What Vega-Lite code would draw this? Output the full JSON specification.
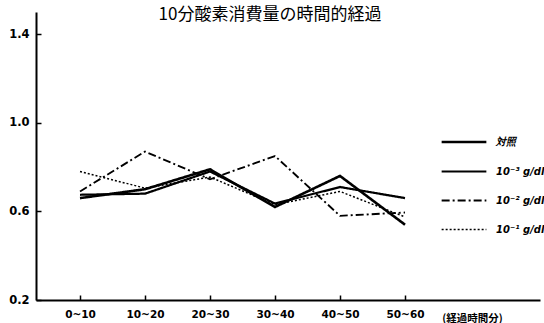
{
  "$schema": "https://vega.github.io/schema/vega-lite/v6.json",
  "width": 504,
  "height": 288,
  "autosize": {"type": "none"},
  "padding": {"left": 36, "top": 12, "right": 4, "bottom": 23},
  "background": "white",
  "title": {
    "text": "10分酸素消費量の時間的経過",
    "font": "Noto Sans CJK JP",
    "fontSize": 17,
    "fontWeight": "normal",
    "color": "black",
    "anchor": "middle",
    "frame": "group",
    "offset": -12,
    "dx": -18
  },
  "config": {
    "view": {"stroke": null},
    "axis": {"grid": false, "domainColor": "black", "domainWidth": 2, "tickColor": "black", "tickWidth": 1.5, "labelColor": "black", "labelFont": "DejaVu Sans", "labelFontWeight": "bold", "labelFontSize": 10.5, "titleColor": "black"}
  },
  "data": {
    "values": [
      {"t": 0, "series": "対照", "v": 0.66},
      {"t": 1, "series": "対照", "v": 0.70},
      {"t": 2, "series": "対照", "v": 0.79},
      {"t": 3, "series": "対照", "v": 0.62},
      {"t": 4, "series": "対照", "v": 0.76},
      {"t": 5, "series": "対照", "v": 0.54},
      {"t": 0, "series": "10⁻³ g/dl", "v": 0.675},
      {"t": 1, "series": "10⁻³ g/dl", "v": 0.68},
      {"t": 2, "series": "10⁻³ g/dl", "v": 0.78},
      {"t": 3, "series": "10⁻³ g/dl", "v": 0.635},
      {"t": 4, "series": "10⁻³ g/dl", "v": 0.71},
      {"t": 5, "series": "10⁻³ g/dl", "v": 0.66},
      {"t": 0, "series": "10⁻² g/dl", "v": 0.69},
      {"t": 1, "series": "10⁻² g/dl", "v": 0.87},
      {"t": 2, "series": "10⁻² g/dl", "v": 0.745},
      {"t": 3, "series": "10⁻² g/dl", "v": 0.85},
      {"t": 4, "series": "10⁻² g/dl", "v": 0.58},
      {"t": 5, "series": "10⁻² g/dl", "v": 0.595},
      {"t": 0, "series": "10⁻¹ g/dl", "v": 0.78},
      {"t": 1, "series": "10⁻¹ g/dl", "v": 0.705},
      {"t": 2, "series": "10⁻¹ g/dl", "v": 0.755},
      {"t": 3, "series": "10⁻¹ g/dl", "v": 0.63},
      {"t": 4, "series": "10⁻¹ g/dl", "v": 0.69},
      {"t": 5, "series": "10⁻¹ g/dl", "v": 0.575}
    ]
  },
  "mark": {"type": "line", "color": "black", "clip": true},
  "encoding": {
    "x": {
      "field": "t",
      "type": "quantitative",
      "scale": {"domain": [-0.677, 7.077], "nice": false, "zero": false},
      "axis": {
        "values": [0, 1, 2, 3, 4, 5],
        "tickSize": -5,
        "labelPadding": 14,
        "labelExpr": "['0~10','10~20','20~30','30~40','40~50','50~60'][datum.value]",
        "title": "(経過時間分)",
        "titleFont": "Noto Sans CJK JP",
        "titleFontSize": 10.5,
        "titleFontWeight": "bold",
        "titleX": 436,
        "titleY": 18,
        "titleAlign": "center",
        "titleBaseline": "middle"
      }
    },
    "y": {
      "field": "v",
      "type": "quantitative",
      "scale": {"domain": [0.2, 1.5], "nice": false, "zero": false},
      "axis": {
        "values": [0.2, 0.6, 1.0, 1.4],
        "tickSize": -5,
        "labelPadding": 12,
        "labelFontSize": 11.5,
        "labelExpr": "format(datum.value, '.1f')",
        "title": null
      }
    },
    "strokeDash": {
      "field": "series",
      "type": "nominal",
      "scale": {
        "domain": ["対照", "10⁻³ g/dl", "10⁻² g/dl", "10⁻¹ g/dl"],
        "range": [[1, 0], [1, 0], [8, 3, 2, 3], [2, 2]]
      },
      "legend": {
        "title": null,
        "orient": "none",
        "legendX": 404,
        "legendY": 106,
        "symbolType": "stroke",
        "symbolSize": 2000,
        "symbolStrokeColor": "black",
        "rowPadding": -11,
        "labelFont": "DejaVu Sans",
        "labelFontSize": 10,
        "labelFontWeight": "bold",
        "labelFontStyle": "italic",
        "labelColor": "black",
        "labelOffset": 8
      }
    },
    "strokeWidth": {
      "field": "series",
      "type": "nominal",
      "scale": {
        "domain": ["対照", "10⁻³ g/dl", "10⁻² g/dl", "10⁻¹ g/dl"],
        "range": [2.6, 1.5, 1.5, 1.5]
      },
      "legend": {
        "title": null,
        "orient": "none",
        "legendX": 404,
        "legendY": 106,
        "symbolType": "stroke",
        "symbolSize": 2000,
        "symbolStrokeColor": "black",
        "rowPadding": -11,
        "labelFont": "DejaVu Sans",
        "labelFontSize": 10,
        "labelFontWeight": "bold",
        "labelFontStyle": "italic",
        "labelColor": "black",
        "labelOffset": 8
      }
    }
  }
}
